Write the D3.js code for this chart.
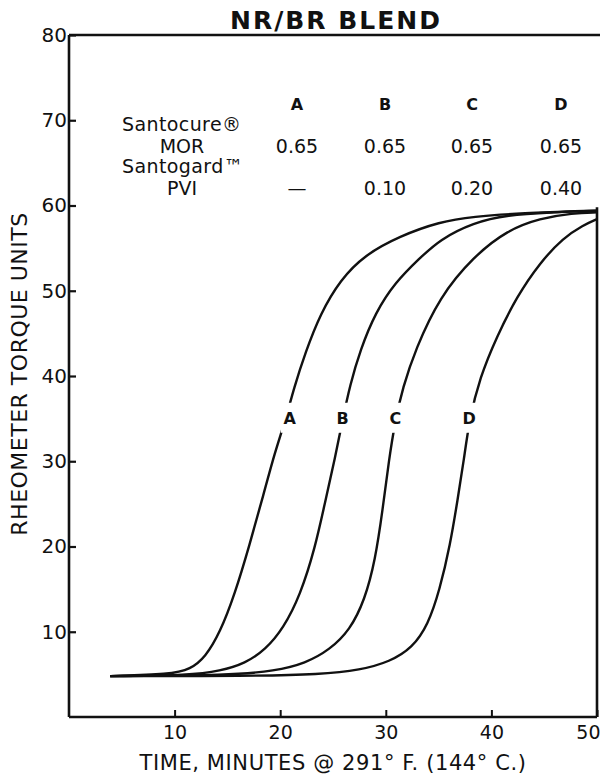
<!DOCTYPE html>
<html>
<head>
<meta charset="utf-8">
<script src="https://cdn.jsdelivr.net/npm/d3@7"></script>
<style>
body{margin:0;background:#fff;}
svg{display:block;font-family:"DejaVu Sans",sans-serif;}
</style>
</head>
<body>
<div id="chart"></div>
<script>
var yTicks=[10,20,30,40,50,60,70,80];
var xTicks=[10,20,30,40,50];
var compounds=["A","B","C","D"];
var morValues=["0.65","0.65","0.65","0.65"];
var pviValues=["\u2014","0.10","0.20","0.40"];

// [minutes, torque]
var curveA=[[3.9,4.8],[9.6,5.0],[11.5,5.6],[12.9,7.0],[14.3,9.9],[15.7,14.4],[17.1,20.2],[18.4,26.0],[19.5,31.1],[20.5,34.8],[21.3,38.6],[22.4,42.8],[23.8,47.3],[25.7,51.3],[28.0,54.2],[31.3,56.4],[35.1,58.1],[38.3,58.7],[42.7,59.1],[50,59.4]];
var curveB=[[3.9,4.8],[11.5,4.9],[14.3,5.4],[16.7,6.3],[18.6,7.9],[20.3,10.4],[21.9,14.3],[23.3,19.8],[24.3,25.5],[25.2,30.4],[25.9,34.8],[26.6,38.9],[27.6,43.1],[29.0,47.4],[30.9,51.0],[33.2,53.8],[35.1,56.0],[38.3,58.0],[41.5,58.9],[45.6,59.2],[50,59.4]];
var curveC=[[3.9,4.8],[15.3,4.9],[19.5,5.4],[22.4,6.3],[24.7,7.9],[26.6,10.2],[28.0,13.7],[29.0,18.4],[29.7,24.3],[30.3,30.2],[30.9,34.8],[31.6,38.6],[32.8,43.1],[35.1,49.3],[38.3,54.0],[41.5,57.1],[44.6,58.5],[47.7,59.1],[50,59.2]];
var curveD=[[3.9,4.8],[17.1,4.8],[23.8,5.0],[27.6,5.5],[30.4,6.5],[32.5,8.1],[34.0,10.8],[35.1,14.9],[36.1,20.2],[36.8,25.5],[37.4,30.2],[37.9,34.8],[38.9,39.8],[40.5,44.6],[42.4,49.3],[44.6,53.3],[46.8,56.2],[48.7,57.7],[50,58.4]];
var curveLabels=[{name:"A",t:20.9,v:35.1},{name:"B",t:25.9,v:35.1},{name:"C",t:30.9,v:35.1},{name:"D",t:37.9,v:35.1}];

var width=600,height=776;
var ink="#111";

var svg=d3.select("#chart")
	.append("svg")
	.attr("width",width)
	.attr("height",height);

var x=d3.scaleLinear().domain([0,50]).range([69,597]);
var y=d3.scaleLinear().domain([0,80]).range([717,35]);

// frame
svg.append("line").attr("x1",x(0)).attr("y1",y(80)).attr("x2",x(0)).attr("y2",y(0));
svg.append("line").attr("x1",x(0)).attr("y1",y(0)).attr("x2",x(50)).attr("y2",y(0));
svg.append("line").attr("x1",x(0)).attr("y1",y(80)).attr("x2",width).attr("y2",y(80));
svg.append("line").attr("x1",x(50)).attr("y1",y(59.8)).attr("x2",x(50)).attr("y2",y(0));
svg.selectAll("line").style("stroke",ink).style("stroke-width","2.6px");

var yAxis=svg.append("g")
	.attr("transform","translate("+x(0)+",0)")
	.call(d3.axisLeft(y).tickValues(yTicks).tickSize(-7).tickPadding(2));
yAxis.select(".domain").remove();
yAxis.selectAll("line").style("stroke",ink).style("stroke-width","2.2px");
yAxis.selectAll("text").style("font-size","20px").style("fill",ink).style("font-family","DejaVu Sans");

var xAxis=svg.append("g")
	.attr("transform","translate(0,"+y(0)+")")
	.call(d3.axisBottom(x).tickValues(xTicks).tickSize(-7).tickPadding(9));
xAxis.select(".domain").remove();
xAxis.selectAll("line").style("stroke",ink).style("stroke-width","2px");
xAxis.selectAll("text").style("font-size","19px").style("fill",ink).style("font-family","DejaVu Sans");
xAxis.selectAll("text").filter(function(d){return d==50;})
	.attr("text-anchor","end")
	.attr("x",3);

svg.append("text")
	.attr("x",336)
	.attr("y",29)
	.attr("text-anchor","middle")
	.style("font-size","25px")
	.style("font-weight","bold")
	.style("letter-spacing","2px")
	.style("fill",ink)
	.text("NR/BR BLEND");

svg.append("text")
	.attr("x",333)
	.attr("y",770)
	.attr("text-anchor","middle")
	.style("font-size","21px")
	.style("letter-spacing","0.6px")
	.style("fill",ink)
	.text("TIME, MINUTES @ 291\u00b0 F. (144\u00b0 C.)");

svg.append("text")
	.attr("transform","translate(27,374) rotate(-90)")
	.attr("text-anchor","middle")
	.style("font-size","22px")
	.style("letter-spacing","0.5px")
	.style("fill",ink)
	.text("RHEOMETER TORQUE UNITS");

// compound table
var colX=[297,385,472,561];
var table=svg.append("g").style("fill",ink);

table.selectAll(".colHead")
	.data(compounds)
	.enter()
	.append("text")
	.attr("class","colHead")
	.attr("x",function(d,i){return colX[i];})
	.attr("y",110)
	.attr("text-anchor","middle")
	.style("font-size","16px")
	.style("font-weight","bold")
	.text(function(d){return d;});

table.append("text").attr("x",122).attr("y",131).style("font-size","19px").style("letter-spacing","0.4px").text("Santocure\u00ae");
table.append("text").attr("x",182).attr("y",153).attr("text-anchor","middle").style("font-size","19px").text("MOR");
table.append("text").attr("x",122).attr("y",173).style("font-size","19px").style("letter-spacing","0.4px").text("Santogard\u2122");
table.append("text").attr("x",182).attr("y",195).attr("text-anchor","middle").style("font-size","19px").text("PVI");

table.selectAll(".mor")
	.data(morValues)
	.enter()
	.append("text")
	.attr("class","mor")
	.attr("x",function(d,i){return colX[i];})
	.attr("y",153)
	.attr("text-anchor","middle")
	.style("font-size","19px")
	.text(function(d){return d;});

table.selectAll(".pvi")
	.data(pviValues)
	.enter()
	.append("text")
	.attr("class","pvi")
	.attr("x",function(d,i){return colX[i];})
	.attr("y",195)
	.attr("text-anchor","middle")
	.style("font-size","19px")
	.text(function(d){return d;});

// cure curves
var line=d3.line()
	.x(function(d){return x(d[0]);})
	.y(function(d){return y(d[1]);})
	.curve(d3.curveBasis);

svg.selectAll(".cure")
	.data([curveA,curveB,curveC,curveD])
	.enter()
	.append("path")
	.attr("class","cure")
	.attr("d",line)
	.style("fill","none")
	.style("stroke",ink)
	.style("stroke-width","2.4px");

var lab=svg.selectAll(".curveLabel")
	.data(curveLabels)
	.enter()
	.append("g")
	.attr("class","curveLabel")
	.attr("transform",function(d){return "translate("+x(d.t)+","+y(d.v)+")";});

lab.append("rect")
	.attr("x",-9)
	.attr("y",-15)
	.attr("width",18)
	.attr("height",30)
	.style("fill","#fff");

lab.append("text")
	.attr("text-anchor","middle")
	.attr("dy","0.36em")
	.style("font-size","16px")
	.style("font-weight","bold")
	.style("fill",ink)
	.text(function(d){return d.name;});
</script>
</body>
</html>
